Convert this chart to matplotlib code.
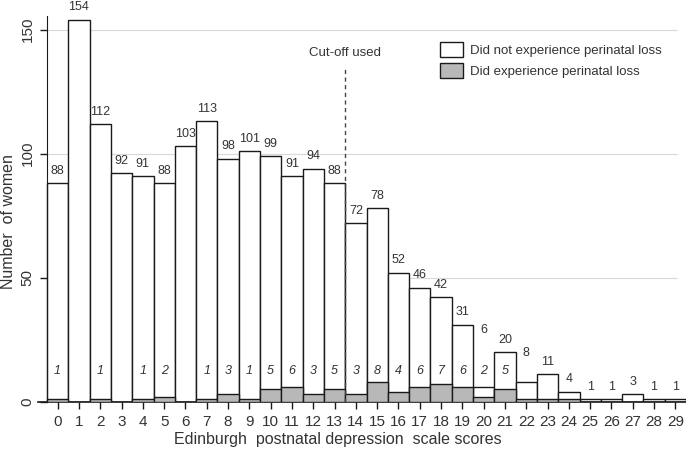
import numpy as np
import matplotlib
matplotlib.use("Agg")
import matplotlib.pyplot as plt

plt.rcParams['font.family'] = ['Liberation Sans', 'DejaVu Sans']

scores = list(range(30))
totals = [88, 154, 112, 92, 91, 88, 103, 113, 98, 101, 99, 91, 94, 88, 72,
          78, 52, 46, 42, 31, 6, 20, 8, 11, 4, 1, 1, 3, 1, 1]
loss = [1, 0, 1, 0, 1, 2, 0, 1, 3, 1, 5, 6, 3, 5, 3,
        8, 4, 6, 7, 6, 2, 5, 1, 1, 1, 0, 0, 0, 0, 0]
loss_shown = 22  # loss counts are labelled for scores 0..21
cutoff = 13.5

txt = '#333333'
gray = '#b8b8b8'
edge = '#1a1a1a'

fig = plt.figure(figsize=(6.86, 4.57), dpi=100)
ax = fig.add_axes([0.0561, 0.1214, 0.9439, 0.8786])

x = np.array(scores)
ax.hlines([50, 100, 150], -0.5, 29.1, color='#d8d8d8', lw=0.8, zorder=0)

ax.bar(x, totals, width=1.0, color='white', edgecolor=edge, lw=1.0,
       zorder=2, label='Did not experience perinatal loss')
ax.bar(x, loss, width=1.0, color=gray, edgecolor=edge, lw=1.0,
       zorder=3, label='Did experience perinatal loss')

# label heights: normally 5 above the bar, a few sit higher in the original
label_y = {20: 29, 22: 19.5}
for i, t in enumerate(totals):
    yy = label_y.get(i, t + 5)
    ax.text(i, yy, str(t), ha='center', va='center', fontsize=9, color=txt,
            zorder=5)

for i in range(loss_shown):
    if loss[i] > 0:
        ax.text(i, 12.3, str(loss[i]), ha='center', va='center', fontsize=9,
                style='italic', color=txt, zorder=5)

ax.plot([cutoff, cutoff], [0, 134], ls=(0, (3, 2.5)), color='#444444',
        lw=1.0, zorder=4)
ax.text(cutoff, 140.5, 'Cut-off used', ha='center', va='center',
        fontsize=9.5, color=txt)

ax.set_xlim(-0.9, 29.5)
ax.set_ylim(0, 162)
ax.spines['top'].set_visible(False)
ax.spines['right'].set_visible(False)
ax.spines['left'].set_position(('data', -0.5))
ax.spines['left'].set_bounds(0, 155.5)
ax.spines['left'].set_color(edge)
ax.spines['bottom'].set_color(edge)
ax.spines['bottom'].set_linewidth(1.2)

ax.set_xticks(x)
ax.set_xticklabels([str(s) for s in scores])
ax.set_yticks([0, 50, 100, 150])
ax.tick_params(axis='x', length=5, width=1, pad=5, labelsize=11,
               labelcolor=txt, color=edge)
ax.tick_params(axis='y', length=5, width=1, pad=4, labelsize=11,
               labelcolor=txt, color=edge)
for lab in ax.get_yticklabels():
    lab.set_rotation(90)
    lab.set_va('center')

ax.set_xlabel('Edinburgh  postnatal depression  scale scores', fontsize=11.5,
              color=txt)
ax.set_ylabel('Number  of women', fontsize=11.5, color=txt)
ax.xaxis.set_label_coords(0.462, -0.076)
ax.yaxis.set_label_coords(-0.034, 0.447)

ax.legend(loc='upper left', bbox_to_anchor=(0.62, 0.895), frameon=False,
          fontsize=9.5, handlelength=1.75, handleheight=1.36,
          handletextpad=0.5, labelspacing=0.45, borderpad=0,
          borderaxespad=0, labelcolor=txt)

fig.savefig('out.png', dpi=100)
